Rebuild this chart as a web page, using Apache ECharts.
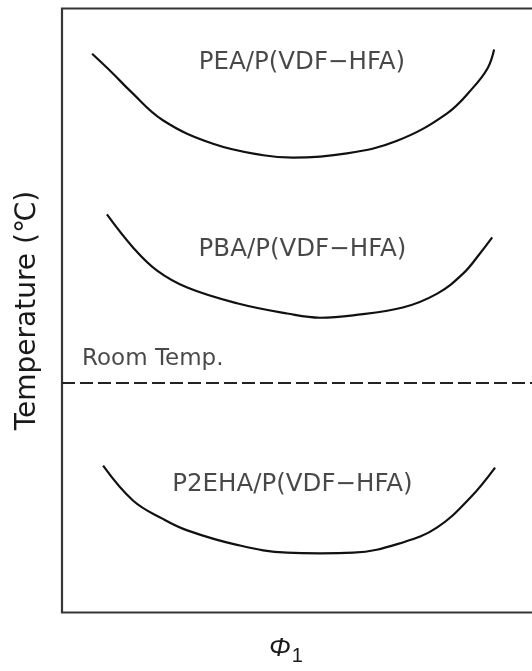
<!DOCTYPE html>
<html>
<head>
<meta charset="utf-8">
<script src="https://cdn.jsdelivr.net/npm/echarts@6/dist/echarts.min.js"></script>
<style>
  html, body { margin: 0; padding: 0; background: #fff; }
  #chart { width: 532px; height: 671px; }
</style>
</head>
<body>
<div id="chart"></div>
<script>
// Schematic phase diagram: LCST-type binodal curves vs. volume fraction φ1
// (x: φ1 on a 0–100 scale, y: relative temperature on a 0–100 scale)

const peaPhi  = [6.3, 10.7, 14.2, 21.1, 31.6, 42.1, 48.3, 59.6, 70.1, 80.5, 86.0, 89.1, 90.4];
const peaTemp = [92.5, 89.2, 86.4, 81.5, 77.6, 75.7, 75.3, 76.0, 78.1, 82.6, 86.9, 90.2, 93.2];

const pbaPhi  = [9.4, 14.9, 19.9, 26.2, 36.6, 47.1, 54.0, 60.9, 71.3, 78.5, 83.9, 87.4, 90.0];
const pbaTemp = [65.9, 60.4, 56.6, 53.8, 51.2, 49.5, 48.8, 49.2, 50.5, 52.8, 56.1, 59.4, 62.1];

const p2ehaPhi  = [8.6, 14.9, 21.1, 26.2, 36.6, 47.1, 54.0, 60.9, 71.3, 78.5, 85.4, 90.6];
const p2ehaTemp = [24.3, 18.5, 15.5, 13.6, 11.2, 9.9, 9.8, 9.9, 11.6, 14.1, 19.0, 24.0];

const roomTemp = 38.1;

const curveNames = ['PEA/P(VDF\u2212HFA)', 'PBA/P(VDF\u2212HFA)', 'P2EHA/P(VDF\u2212HFA)'];
const roomTempLabel = 'Room Temp.';

const zip = (xs, ys) => xs.map((x, i) => [x, ys[i]]);

const curveStyle = { color: '#111', width: 2.2 };
const textColor = '#1a1a1a';
const textFont = 'DejaVu Sans';

function curveSeries(name, xs, ys) {
  return {
    name: name,
    type: 'line',
    data: zip(xs, ys),
    smooth: 0.4,
    showSymbol: false,
    symbol: 'none',
    lineStyle: curveStyle,
    silent: true
  };
}

const chart = echarts.init(document.getElementById('chart'), null, { renderer: 'canvas' });

chart.setOption({
  animation: false,
  backgroundColor: '#fff',
  grid: {
    left: 62, top: 8.5, right: -8, bottom: 58.5,
    outerBoundsMode: 'none',
    containLabel: false,
    show: true, borderColor: '#363636', borderWidth: 2.2,
    backgroundColor: 'transparent'
  },
  xAxis: {
    type: 'value', min: 0, max: 100,
    axisLine: { show: false }, axisTick: { show: false },
    axisLabel: { show: false }, splitLine: { show: false },
    name: '{phi|\u03A6}{sub|1}',
    nameLocation: 'middle',
    nameGap: 23,
    nameTextStyle: {
      padding: [0, 30, 0, 0],
      rich: {
        phi: { fontFamily: 'Liberation Sans', fontStyle: 'italic', fontSize: 26, color: textColor, lineHeight: 26, verticalAlign: 'top' },
        sub: { fontFamily: 'Liberation Sans', fontSize: 20, color: textColor, lineHeight: 31, verticalAlign: 'bottom', padding: [0, 0, 0, 1] }
      }
    }
  },
  yAxis: {
    type: 'value', min: 0, max: 100,
    axisLine: { show: false }, axisTick: { show: false },
    axisLabel: { show: false }, splitLine: { show: false },
    name: 'Temperature (\u2103)',
    nameLocation: 'middle',
    nameRotate: 90,
    nameGap: 20,
    nameTextStyle: { fontFamily: textFont, fontSize: 28, color: textColor }
  },
  series: [
    curveSeries(curveNames[0], peaPhi, peaTemp),
    curveSeries(curveNames[1], pbaPhi, pbaTemp),
    curveSeries(curveNames[2], p2ehaPhi, p2ehaTemp),
    {
      // room temperature reference line
      type: 'line',
      data: [],
      markLine: {
        silent: true,
        symbol: 'none',
        label: { show: false },
        lineStyle: { color: '#222', width: 2, type: [13, 5] },
        data: [{ yAxis: roomTemp }]
      }
    },
    {
      // text annotations
      type: 'scatter',
      symbolSize: 0,
      silent: true,
      label: {
        show: true,
        position: 'inside',
        formatter: p => p.name,
        fontFamily: textFont,
        fontSize: 24.5,
        color: textColor
      },
      data: [
        { name: curveNames[0], value: [50.2, 91.1] },
        { name: curveNames[1], value: [50.3, 60.1] },
        { name: curveNames[2], value: [48.2, 21.2] },
        {
          name: roomTempLabel, value: [4.2, 41.9],
          label: { position: 'right', distance: 0, fontSize: 23 }
        }
      ]
    }
  ]
});
</script>
</body>
</html>
